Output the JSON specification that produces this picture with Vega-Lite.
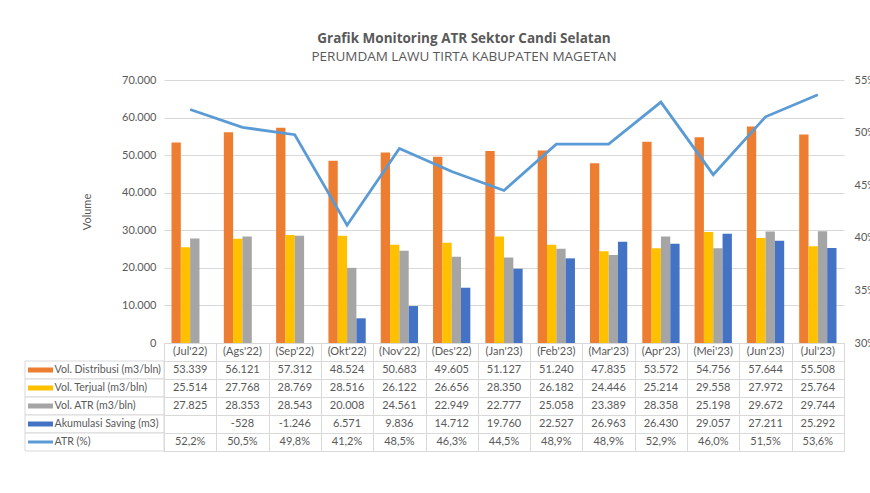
{
  "$schema": "https://vega.github.io/schema/vega-lite/v6.json",
  "padding": {"left": 24, "top": 31, "right": 0, "bottom": 0},
  "background": "white",
  "title": {
    "text": "Grafik Monitoring ATR Sektor Candi Selatan",
    "subtitle": "PERUMDAM LAWU TIRTA KABUPATEN MAGETAN",
    "anchor": "start",
    "align": "center",
    "frame": "group",
    "font": "Open Sans",
    "fontSize": 13.5,
    "fontWeight": "bold",
    "color": "#595959",
    "subtitleFont": "Open Sans",
    "subtitleFontSize": 13.5,
    "subtitleColor": "#595959",
    "subtitlePadding": 5,
    "offset": 10.5,
    "dx": 439
  },
  "datasets": {
    "long": [
      {"month": "(Jul'22)", "series": "Vol. Distribusi (m3/bln)", "value": 53339},
      {"month": "(Ags'22)", "series": "Vol. Distribusi (m3/bln)", "value": 56121},
      {"month": "(Sep'22)", "series": "Vol. Distribusi (m3/bln)", "value": 57312},
      {"month": "(Okt'22)", "series": "Vol. Distribusi (m3/bln)", "value": 48524},
      {"month": "(Nov'22)", "series": "Vol. Distribusi (m3/bln)", "value": 50683},
      {"month": "(Des'22)", "series": "Vol. Distribusi (m3/bln)", "value": 49605},
      {"month": "(Jan'23)", "series": "Vol. Distribusi (m3/bln)", "value": 51127},
      {"month": "(Feb'23)", "series": "Vol. Distribusi (m3/bln)", "value": 51240},
      {"month": "(Mar'23)", "series": "Vol. Distribusi (m3/bln)", "value": 47835},
      {"month": "(Apr'23)", "series": "Vol. Distribusi (m3/bln)", "value": 53572},
      {"month": "(Mei'23)", "series": "Vol. Distribusi (m3/bln)", "value": 54756},
      {"month": "(Jun'23)", "series": "Vol. Distribusi (m3/bln)", "value": 57644},
      {"month": "(Jul'23)", "series": "Vol. Distribusi (m3/bln)", "value": 55508},
      {"month": "(Jul'22)", "series": "Vol. Terjual (m3/bln)", "value": 25514},
      {"month": "(Ags'22)", "series": "Vol. Terjual (m3/bln)", "value": 27768},
      {"month": "(Sep'22)", "series": "Vol. Terjual (m3/bln)", "value": 28769},
      {"month": "(Okt'22)", "series": "Vol. Terjual (m3/bln)", "value": 28516},
      {"month": "(Nov'22)", "series": "Vol. Terjual (m3/bln)", "value": 26122},
      {"month": "(Des'22)", "series": "Vol. Terjual (m3/bln)", "value": 26656},
      {"month": "(Jan'23)", "series": "Vol. Terjual (m3/bln)", "value": 28350},
      {"month": "(Feb'23)", "series": "Vol. Terjual (m3/bln)", "value": 26182},
      {"month": "(Mar'23)", "series": "Vol. Terjual (m3/bln)", "value": 24446},
      {"month": "(Apr'23)", "series": "Vol. Terjual (m3/bln)", "value": 25214},
      {"month": "(Mei'23)", "series": "Vol. Terjual (m3/bln)", "value": 29558},
      {"month": "(Jun'23)", "series": "Vol. Terjual (m3/bln)", "value": 27972},
      {"month": "(Jul'23)", "series": "Vol. Terjual (m3/bln)", "value": 25764},
      {"month": "(Jul'22)", "series": "Vol. ATR (m3/bln)", "value": 27825},
      {"month": "(Ags'22)", "series": "Vol. ATR (m3/bln)", "value": 28353},
      {"month": "(Sep'22)", "series": "Vol. ATR (m3/bln)", "value": 28543},
      {"month": "(Okt'22)", "series": "Vol. ATR (m3/bln)", "value": 20008},
      {"month": "(Nov'22)", "series": "Vol. ATR (m3/bln)", "value": 24561},
      {"month": "(Des'22)", "series": "Vol. ATR (m3/bln)", "value": 22949},
      {"month": "(Jan'23)", "series": "Vol. ATR (m3/bln)", "value": 22777},
      {"month": "(Feb'23)", "series": "Vol. ATR (m3/bln)", "value": 25058},
      {"month": "(Mar'23)", "series": "Vol. ATR (m3/bln)", "value": 23389},
      {"month": "(Apr'23)", "series": "Vol. ATR (m3/bln)", "value": 28358},
      {"month": "(Mei'23)", "series": "Vol. ATR (m3/bln)", "value": 25198},
      {"month": "(Jun'23)", "series": "Vol. ATR (m3/bln)", "value": 29672},
      {"month": "(Jul'23)", "series": "Vol. ATR (m3/bln)", "value": 29744},
      {"month": "(Ags'22)", "series": "Akumulasi Saving (m3)", "value": -528},
      {"month": "(Sep'22)", "series": "Akumulasi Saving (m3)", "value": -1246},
      {"month": "(Okt'22)", "series": "Akumulasi Saving (m3)", "value": 6571},
      {"month": "(Nov'22)", "series": "Akumulasi Saving (m3)", "value": 9836},
      {"month": "(Des'22)", "series": "Akumulasi Saving (m3)", "value": 14712},
      {"month": "(Jan'23)", "series": "Akumulasi Saving (m3)", "value": 19760},
      {"month": "(Feb'23)", "series": "Akumulasi Saving (m3)", "value": 22527},
      {"month": "(Mar'23)", "series": "Akumulasi Saving (m3)", "value": 26963},
      {"month": "(Apr'23)", "series": "Akumulasi Saving (m3)", "value": 26430},
      {"month": "(Mei'23)", "series": "Akumulasi Saving (m3)", "value": 29057},
      {"month": "(Jun'23)", "series": "Akumulasi Saving (m3)", "value": 27211},
      {"month": "(Jul'23)", "series": "Akumulasi Saving (m3)", "value": 25292},
      {"month": "(Jul'22)", "series": "ATR (%)", "value": 0.522},
      {"month": "(Ags'22)", "series": "ATR (%)", "value": 0.505},
      {"month": "(Sep'22)", "series": "ATR (%)", "value": 0.498},
      {"month": "(Okt'22)", "series": "ATR (%)", "value": 0.412},
      {"month": "(Nov'22)", "series": "ATR (%)", "value": 0.485},
      {"month": "(Des'22)", "series": "ATR (%)", "value": 0.463},
      {"month": "(Jan'23)", "series": "ATR (%)", "value": 0.445},
      {"month": "(Feb'23)", "series": "ATR (%)", "value": 0.489},
      {"month": "(Mar'23)", "series": "ATR (%)", "value": 0.489},
      {"month": "(Apr'23)", "series": "ATR (%)", "value": 0.529},
      {"month": "(Mei'23)", "series": "ATR (%)", "value": 0.460},
      {"month": "(Jun'23)", "series": "ATR (%)", "value": 0.515},
      {"month": "(Jul'23)", "series": "ATR (%)", "value": 0.536}
    ],
    "keys": [
      {"series": "Vol. Distribusi (m3/bln)"},
      {"series": "Vol. Terjual (m3/bln)"},
      {"series": "Vol. ATR (m3/bln)"},
      {"series": "Akumulasi Saving (m3)"},
      {"series": "ATR (%)"}
    ]
  },
  "columns": 2,
  "spacing": 0,
  "bounds": "flush",
  "align": "each",
  "resolve": {"scale": {"color": "independent"}},
  "concat": [
    {
      "width": 139,
      "height": 263,
      "data": {"values": [{}]},
      "mark": {"type": "text"},
      "encoding": {}
    },
    {
      "width": 680,
      "height": 263,
      "data": {"name": "long"},
      "layer": [
        {
          "transform": [{"filter": "datum.series !== 'ATR (%)'"}],
          "mark": {"type": "bar", "clip": true},
          "encoding": {
            "x": {
              "field": "month",
              "type": "nominal",
              "scale": {
                "domain": ["(Jul'22)", "(Ags'22)", "(Sep'22)", "(Okt'22)", "(Nov'22)", "(Des'22)", "(Jan'23)", "(Feb'23)", "(Mar'23)", "(Apr'23)", "(Mei'23)", "(Jun'23)", "(Jul'23)"],
                "paddingInner": 0.287,
                "paddingOuter": 0.1435
              },
              "axis": null
            },
            "xOffset": {
              "field": "series",
              "type": "nominal",
              "scale": {
                "domain": ["Vol. Distribusi (m3/bln)", "Vol. Terjual (m3/bln)", "Vol. ATR (m3/bln)", "Akumulasi Saving (m3)"],
                "paddingInner": 0,
                "paddingOuter": 0
              }
            },
            "y": {
              "field": "value",
              "type": "quantitative",
              "scale": {"domain": [0, 70000], "nice": false, "zero": true},
              "axis": {
                "title": "Volume",
                "values": [0, 10000, 20000, 30000, 40000, 50000, 60000, 70000],
                "format": ",d",
                "grid": true,
                "labelPadding": 8,
                "titlePadding": 29
              }
            },
            "color": {
              "field": "series",
              "type": "nominal",
              "scale": {
                "domain": ["Vol. Distribusi (m3/bln)", "Vol. Terjual (m3/bln)", "Vol. ATR (m3/bln)", "Akumulasi Saving (m3)", "ATR (%)"],
                "range": ["#ed7d31", "#ffc000", "#a5a5a5", "#4472c4", "#5b9bd5"]
              },
              "legend": null
            }
          }
        },
        {
          "transform": [{"filter": "datum.series === 'ATR (%)'"}],
          "mark": {"type": "line", "color": "#5b9bd5", "strokeWidth": 2.8},
          "encoding": {
            "x": {"field": "month", "type": "nominal"},
            "y": {
              "field": "value",
              "type": "quantitative",
              "scale": {"domain": [0.3, 0.55], "nice": false, "zero": false},
              "axis": {
                "orient": "right",
                "title": null,
                "format": ".0%",
                "values": [0.3, 0.35, 0.4, 0.45, 0.5, 0.55],
                "grid": false,
                "labelPadding": 10
              }
            }
          }
        }
      ],
      "resolve": {"scale": {"y": "independent"}}
    },
    {
      "width": 139,
      "height": 108,
      "data": {"name": "keys"},
      "encoding": {
        "y": {
          "field": "series",
          "type": "nominal",
          "scale": {
            "domain": ["hdr", "Vol. Distribusi (m3/bln)", "Vol. Terjual (m3/bln)", "Vol. ATR (m3/bln)", "Akumulasi Saving (m3)", "ATR (%)"],
            "paddingInner": 0,
            "paddingOuter": 0
          },
          "axis": null
        }
      },
      "layer": [
        {"mark": {"type": "rect", "fill": "white", "stroke": "#d9d9d9", "strokeWidth": 1}},
        {
          "transform": [{"filter": "datum.series !== 'ATR (%)'"}],
          "mark": {"type": "point", "filled": true, "size": 4, "opacity": 1, "shape": "M-66.5,-2.5H-41.5V2.5H-66.5Z"},
          "encoding": {
            "color": {
              "field": "series",
              "type": "nominal",
              "scale": {
                "domain": ["Vol. Distribusi (m3/bln)", "Vol. Terjual (m3/bln)", "Vol. ATR (m3/bln)", "Akumulasi Saving (m3)", "ATR (%)"],
                "range": ["#ed7d31", "#ffc000", "#a5a5a5", "#4472c4", "#5b9bd5"]
              },
              "legend": null
            }
          }
        },
        {
          "transform": [{"filter": "datum.series === 'ATR (%)'"}],
          "mark": {"type": "point", "filled": true, "size": 4, "opacity": 1, "color": "#5b9bd5", "shape": "M-66.5,-1.5H-41.5V1.5H-66.5Z"},
          "encoding": {}
        },
        {
          "mark": {"type": "text", "align": "left", "dx": -40, "fontSize": 10.6, "color": "#595959", "font": "Lato"},
          "encoding": {"text": {"field": "series"}}
        }
      ]
    },
    {
      "width": 680,
      "height": 108,
      "data": {"name": "long"},
      "view": {"stroke": "#d9d9d9"},
      "encoding": {
        "x": {
          "field": "month",
          "type": "nominal",
          "scale": {
            "domain": ["(Jul'22)", "(Ags'22)", "(Sep'22)", "(Okt'22)", "(Nov'22)", "(Des'22)", "(Jan'23)", "(Feb'23)", "(Mar'23)", "(Apr'23)", "(Mei'23)", "(Jun'23)", "(Jul'23)"],
            "paddingInner": 0,
            "paddingOuter": 0
          },
          "axis": {"grid": true, "tickBand": "extent", "labels": false, "ticks": false, "domain": false, "title": null, "gridColor": "#d9d9d9"}
        }
      },
      "layer": [
        {
          "transform": [{"filter": "datum.series === 'Vol. Distribusi (m3/bln)'"}],
          "mark": {"type": "text", "fontSize": 11, "color": "#595959", "font": "Lato"},
          "encoding": {
            "y": {"datum": "hdr", "type": "nominal"},
            "text": {"field": "month"}
          }
        },
        {
          "transform": [{"filter": "datum.series !== 'ATR (%)'"}],
          "mark": {"type": "text", "fontSize": 11, "color": "#595959", "font": "Lato"},
          "encoding": {
            "y": {
              "field": "series",
              "type": "nominal",
              "scale": {
                "domain": ["hdr", "Vol. Distribusi (m3/bln)", "Vol. Terjual (m3/bln)", "Vol. ATR (m3/bln)", "Akumulasi Saving (m3)", "ATR (%)"],
                "paddingInner": 0,
                "paddingOuter": 0
              },
              "axis": {"grid": true, "tickBand": "extent", "labels": false, "ticks": false, "domain": false, "title": null, "gridColor": "#d9d9d9"}
            },
            "text": {"field": "value", "type": "quantitative", "format": ","}
          }
        },
        {
          "transform": [{"filter": "datum.series === 'ATR (%)'"}],
          "mark": {"type": "text", "fontSize": 11, "color": "#595959", "font": "Lato"},
          "encoding": {
            "y": {"field": "series", "type": "nominal"},
            "text": {"field": "value", "type": "quantitative", "format": ".1%"}
          }
        }
      ]
    }
  ],
  "config": {
    "font": "Lato",
    "view": {"stroke": null},
    "locale": {
      "number": {"decimal": ",", "thousands": ".", "grouping": [3], "currency": ["", ""], "minus": "-"}
    },
    "axis": {
      "labelFont": "Lato",
      "labelColor": "#595959",
      "labelFontSize": 11,
      "titleFont": "Lato",
      "titleColor": "#595959",
      "titleFontSize": 11,
      "titleFontWeight": "normal",
      "domain": false,
      "ticks": false,
      "gridColor": "#d9d9d9",
      "gridWidth": 1
    }
  }
}
